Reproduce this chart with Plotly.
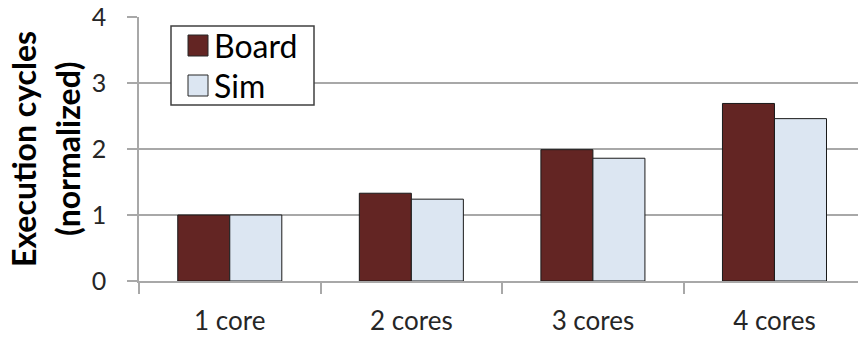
import plotly.graph_objects as go

# Normalized execution cycles per core count
categories = ["1 core", "2 cores", "3 cores", "4 cores"]
board = [1.0, 1.33, 1.99, 2.69]
sim = [1.0, 1.24, 1.86, 2.46]
y_ticks = [0, 1, 2, 3, 4]

series = [("Board", board, "#632523"), ("Sim", sim, "#dce6f2")]

FONT = "Lato"
GRID = "#a8a8a8"
OUTLINE = "#1a1a1a"

# plot area in pixels (for placing the legend box and the axis title)
W, H = 858, 338
L, R, T, B = 139, 0, 17, 57
PW, PH = W - L - R, H - T - B


def px_x(px):
    return (px - L) / PW


def px_y(py):
    return (H - B - py) / PH


fig = go.Figure()
for name, vals, color in series:
    fig.add_trace(go.Bar(
        name=name, x=categories, y=vals,
        marker=dict(color=color, line=dict(color=OUTLINE, width=1)),
    ))

shapes = [dict(
    type="rect", xref="paper", yref="paper",
    x0=px_x(171), x1=px_x(314), y0=px_y(105), y1=px_y(26),
    line=dict(color="#404040", width=1.5), fillcolor="white", layer="above",
)]
annotations = []
for i, (name, _, color) in enumerate(series):
    top = 35 + 40 * i
    shapes.append(dict(
        type="rect", xref="paper", yref="paper",
        x0=px_x(188), x1=px_x(208), y0=px_y(top + 21), y1=px_y(top),
        line=dict(color="#262626", width=1), fillcolor=color, layer="above",
    ))
    annotations.append(dict(
        text=name, xref="paper", yref="paper",
        x=px_x(212), y=px_y(top + 10.5), xanchor="left", yanchor="middle",
        showarrow=False, font=dict(family=FONT, size=32, color="black"),
    ))

# two-line bold axis title, each line placed on its own
for text, cx in (("Execution cycles", 23), ("(normalized)", 67)):
    annotations.append(dict(
        text=f"<b>{text}</b>", xref="paper", yref="paper",
        x=px_x(cx), y=0.5, xanchor="center", yanchor="middle",
        textangle=-90, showarrow=False,
        font=dict(family=FONT, size=32, color="black"),
    ))

fig.update_layout(
    width=W, height=H,
    margin=dict(l=L, r=R, t=T, b=B),
    paper_bgcolor="white", plot_bgcolor="white",
    barmode="group", bargap=0.427, bargroupgap=0,
    font=dict(family=FONT, color="#262626"),
    showlegend=False,
    xaxis=dict(
        type="category", range=[-0.5, 3.46],
        showgrid=False, showline=True, linecolor=GRID, linewidth=1.5,
        ticks="outside", tickson="boundaries", ticklen=11,
        tickcolor=GRID, tickwidth=1.5,
        tickfont=dict(family=FONT, size=26, color="#262626"),
        ticklabelstandoff=16,
    ),
    yaxis=dict(
        range=[0, 4], tickvals=y_ticks,
        showgrid=True, gridcolor=GRID, gridwidth=1.5,
        showline=True, linecolor=GRID, linewidth=1.5,
        zeroline=False,
        ticks="outside", ticklen=10, tickcolor=GRID, tickwidth=1.5,
        tickfont=dict(family=FONT, size=25, color="#262626"),
        ticklabelstandoff=16,
    ),
    shapes=shapes,
    annotations=annotations,
)

fig.write_html("out.html")
